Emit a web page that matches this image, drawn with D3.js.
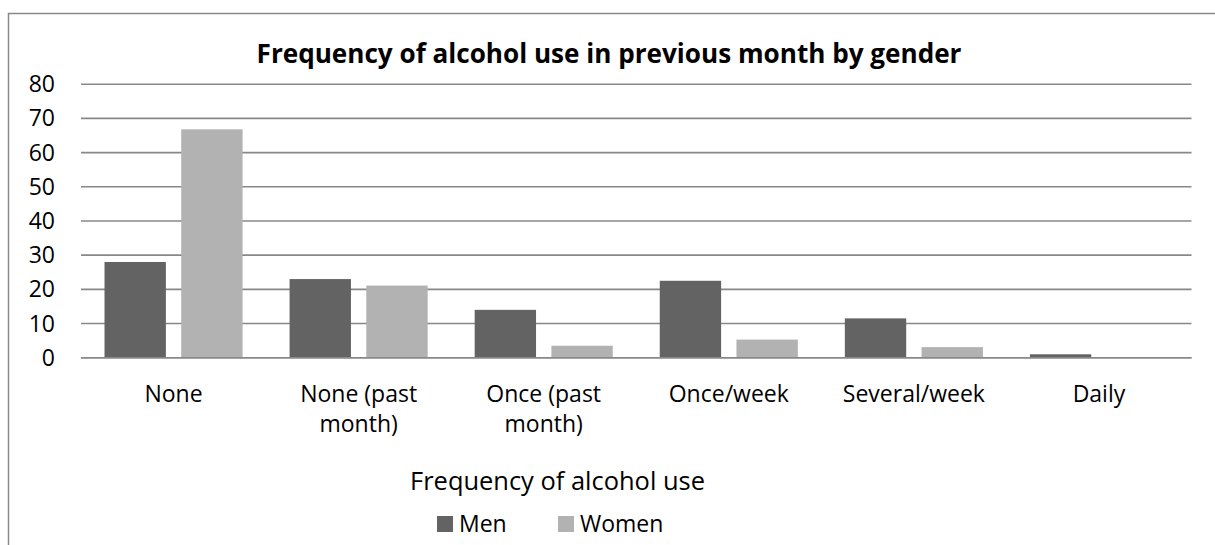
<!DOCTYPE html>
<html>
<head>
<meta charset="utf-8">
<script src="https://cdn.jsdelivr.net/npm/d3@7/dist/d3.min.js"></script>
<style>
  html, body { margin: 0; padding: 0; background: #fff; }
  svg { display: block; }
  text { font-family: "Open Sans", "Noto Sans", sans-serif; fill: #000; }
</style>
</head>
<body>
<svg id="chart" width="1215" height="545"></svg>
<script>
// Chart data
const categories = [
  ["None"],
  ["None (past", "month)"],
  ["Once (past", "month)"],
  ["Once/week"],
  ["Several/week"],
  ["Daily"]
];
const seriesNames = ["Men", "Women"];
const menValues = [28, 23, 14, 22.5, 11.5, 1];
const womenValues = [66.8, 21.1, 3.5, 5.3, 3.1, 0];
const yTicks = [0, 10, 20, 30, 40, 50, 60, 70, 80];
const titleText = "Frequency of alcohol use in previous month by gender";
const xAxisTitle = "Frequency of alcohol use";

const colors = { Men: "#636363", Women: "#b2b2b2" };
const gridColor = "#888888";

const svg = d3.select("#chart");
const W = 1215, H = 545;

// Scale a text's font size so it spans the given width
function fitWidth(sel, width) {
  const node = sel.node();
  const size = parseFloat(sel.attr("font-size"));
  const w = node.getComputedTextLength();
  if (w > 0) sel.attr("font-size", (size * width / w).toFixed(2));
}

svg.append("rect").attr("width", W).attr("height", H).attr("fill", "#fff");

// Chart frame (runs past the right and bottom edges)
svg.append("rect")
  .attr("x", 8.5).attr("y", 13.5)
  .attr("width", 1230).attr("height", 560)
  .attr("fill", "none")
  .attr("stroke", "#8a8a8a")
  .attr("stroke-width", 1.5);

const plot = { left: 81, right: 1191.5, top: 84.2, bottom: 357.7 };

const keys = categories.map(c => c.join(" "));
const x0 = d3.scaleBand().domain(keys).range([plot.left, plot.right]).paddingInner(0).paddingOuter(0);
const groupPad = 23.5;
const x1 = d3.scaleBand().domain(seriesNames)
  .range([groupPad, x0.bandwidth() - groupPad])
  .paddingInner(0.2).paddingOuter(0);
const y = d3.scaleLinear().domain([0, 80]).range([plot.bottom, plot.top]);

// Horizontal gridlines
svg.append("g").selectAll("line").data(yTicks).join("line")
  .attr("x1", plot.left).attr("x2", plot.right)
  .attr("y1", d => y(d)).attr("y2", d => y(d))
  .attr("stroke", gridColor).attr("stroke-width", 1.6);

// Y tick labels
const yAxis = d3.axisLeft(y).tickValues(yTicks).tickSize(0).tickPadding(0);
const gy = svg.append("g").attr("transform", `translate(55,0)`).call(yAxis);
gy.select(".domain").remove();
gy.selectAll("text")
  .attr("font-family", "\"Open Sans\", sans-serif")
  .attr("font-size", 23)
  .attr("fill", "#000")
  .attr("dy", "0.33em");

// Bars
const rows = keys.map((k, i) => ({ key: k, Men: menValues[i], Women: womenValues[i] }));
const groups = svg.append("g").selectAll("g").data(rows).join("g")
  .attr("transform", d => `translate(${x0(d.key)},0)`);
groups.selectAll("rect")
  .data(d => seriesNames.map(s => ({ s, v: d[s] })))
  .join("rect")
  .attr("x", d => x1(d.s))
  .attr("width", x1.bandwidth())
  .attr("y", d => y(d.v))
  .attr("height", d => y(0) - y(d.v))
  .attr("fill", d => colors[d.s]);

// Baseline over the bars
svg.append("line")
  .attr("x1", plot.left).attr("x2", plot.right)
  .attr("y1", y(0)).attr("y2", y(0))
  .attr("stroke", gridColor).attr("stroke-width", 1.6);

// Category labels (wrapped)
const xl = svg.append("g").selectAll("text").data(categories).join("text")
  .attr("text-anchor", "middle")
  .attr("font-size", 23)
  .attr("x", (d, i) => x0(keys[i]) + x0.bandwidth() / 2)
  .attr("y", 401.5);
xl.selectAll("tspan").data(d => d).join("tspan")
  .attr("x", function () { return this.parentNode.getAttribute("x"); })
  .attr("dy", (d, i) => i === 0 ? 0 : 30)
  .text(d => d);

// Title
const title = svg.append("text")
  .attr("x", 609).attr("y", 63)
  .attr("text-anchor", "middle")
  .attr("font-weight", "bold")
  .attr("font-size", 26)
  .text(titleText);
fitWidth(title, 705);

// X axis title
const axTitle = svg.append("text")
  .attr("x", 557.5).attr("y", 490)
  .attr("text-anchor", "middle")
  .attr("font-size", 25)
  .text(xAxisTitle);
fitWidth(axTitle, 295);

// Legend
const legendItems = [
  { name: "Men", sx: 437 },
  { name: "Women", sx: 558 }
];
const lg = svg.append("g").selectAll("g").data(legendItems).join("g");
lg.append("rect")
  .attr("x", d => d.sx).attr("y", 516)
  .attr("width", 16).attr("height", 16)
  .attr("fill", d => colors[d.name]);
lg.append("text")
  .attr("x", d => d.sx + 22).attr("y", 531.5)
  .attr("font-size", 23)
  .text(d => d.name);
</script>
</body>
</html>
